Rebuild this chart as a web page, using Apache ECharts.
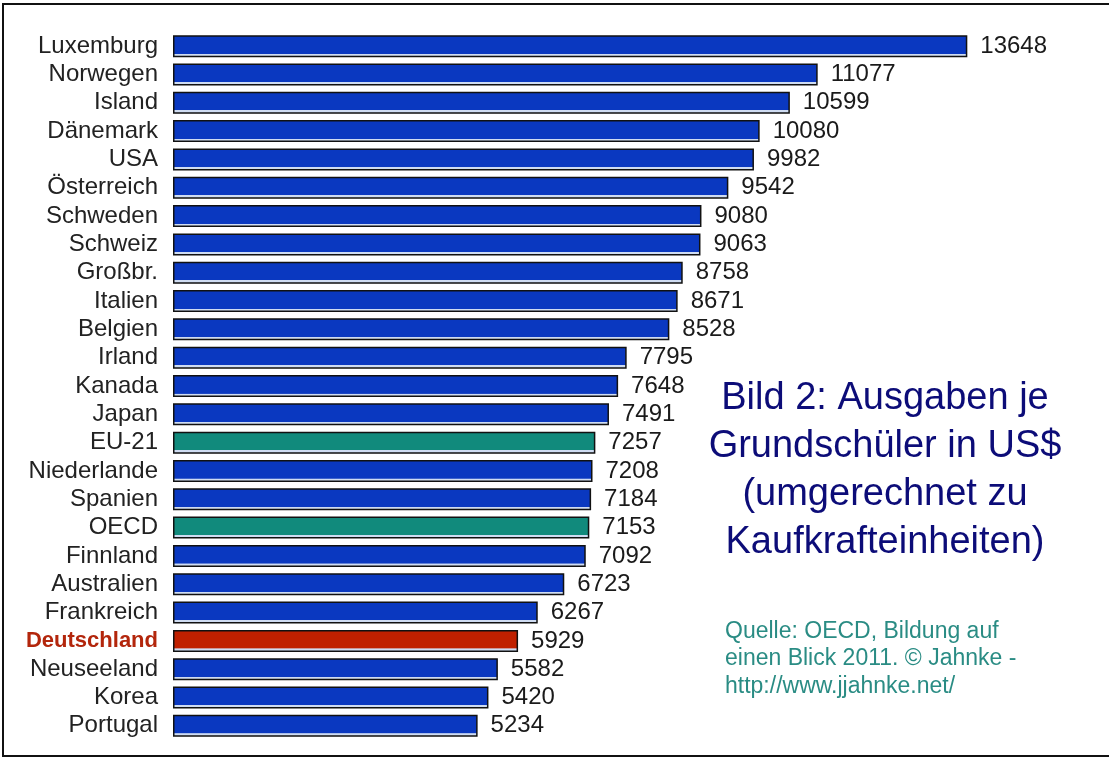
<!DOCTYPE html>
<html>
<head>
<meta charset="utf-8">
<script src="https://cdn.jsdelivr.net/npm/echarts@6/dist/echarts.min.js"></script>
<style>
  html, body { margin: 0; padding: 0; background: #fff; }
  #chart { width: 1109px; height: 760px; }
</style>
</head>
<body>
<div id="chart"></div>
<script>
// Ausgaben je Grundschüler in US$ (OECD 2011)
var countries = ['Luxemburg', 'Norwegen', 'Island', 'Dänemark', 'USA', 'Österreich', 'Schweden', 'Schweiz',
  'Großbr.', 'Italien', 'Belgien', 'Irland', 'Kanada', 'Japan', 'EU-21', 'Niederlande', 'Spanien', 'OECD',
  'Finnland', 'Australien', 'Frankreich', 'Deutschland', 'Neuseeland', 'Korea', 'Portugal'];
var values = [13648, 11077, 10599, 10080, 9982, 9542, 9080, 9063,
  8758, 8671, 8528, 7795, 7648, 7491, 7257, 7208, 7184, 7153,
  7092, 6723, 6267, 5929, 5582, 5420, 5234];
var averages = ['EU-21', 'OECD'];   // teal bars
var highlight = ['Deutschland'];    // red bar + label

var titleLines = ['Bild 2: Ausgaben je', 'Grundschüler in US$', '(umgerechnet zu', 'Kaufkrafteinheiten)'];
var sourceLines = ['Quelle: OECD, Bildung auf', 'einen Blick 2011. © Jahnke -', 'http://www.jjahnke.net/'];

var BLUE = '#0a38c0', TEAL = '#118a7c', RED = '#c02000';

function barFill(c) {
  // light strip along the bottom edge like the original
  return new echarts.graphic.LinearGradient(0, 0, 0, 1, [
    { offset: 0, color: c },
    { offset: 0.84, color: c },
    { offset: 0.85, color: '#cfdcf2' },
    { offset: 1, color: '#cfdcf2' }
  ]);
}

var barData = [];
var catData = [];
for (var i = 0; i < countries.length; i++) {
  var c = BLUE;
  if (averages.indexOf(countries[i]) >= 0) c = TEAL;
  if (highlight.indexOf(countries[i]) >= 0) c = RED;
  barData.push({ value: values[i], itemStyle: { color: barFill(c) } });
  if (highlight.indexOf(countries[i]) >= 0) {
    catData.push({ value: countries[i], textStyle: { color: '#b3260c', fontWeight: 'bold', fontSize: 22 } });
  } else {
    catData.push(countries[i]);
  }
}

var chart = echarts.init(document.getElementById('chart'), null, { renderer: 'canvas' });
var option = {
  backgroundColor: '#ffffff',
  animation: false,
  grid: { left: 173, right: 63, top: 32, bottom: 20 },
  xAxis: {
    type: 'value', min: 0, max: 15000,
    show: false
  },
  yAxis: {
    type: 'category',
    inverse: true,
    data: catData,
    axisLine: { show: false },
    axisTick: { show: false },
    axisLabel: {
      interval: 0,
      margin: 15,
      color: '#222',
      fontFamily: 'Liberation Sans',
      fontSize: 24
    }
  },
  series: [{
    type: 'bar',
    data: barData,
    barWidth: 22,
    itemStyle: { borderColor: '#111', borderWidth: 1.5 },
    label: {
      show: true,
      position: 'right',
      distance: 13,
      color: '#1a1a1a',
      fontFamily: 'Liberation Sans',
      fontSize: 24,
      formatter: '{c}'
    }
  }],
  graphic: [
    {
      type: 'rect', silent: true,
      shape: { x: 3, y: 4, width: 1110, height: 752 },
      style: { fill: null, stroke: '#111', lineWidth: 2 }
    },
    {
      type: 'text', silent: true,
      style: {
        text: titleLines.join('\n'), x: 885, y: 471,
        textAlign: 'center', textVerticalAlign: 'middle',
        font: '38px "Liberation Sans"', lineHeight: 48, fill: '#0c0c78'
      }
    },
    {
      type: 'text', silent: true,
      style: {
        text: sourceLines.join('\n'), x: 725, y: 659,
        textAlign: 'left', textVerticalAlign: 'middle',
        font: '23px "Liberation Sans"', lineHeight: 27.5, fill: '#2a8c84'
      }
    }
  ]
};
chart.setOption(option);
</script>
</body>
</html>
